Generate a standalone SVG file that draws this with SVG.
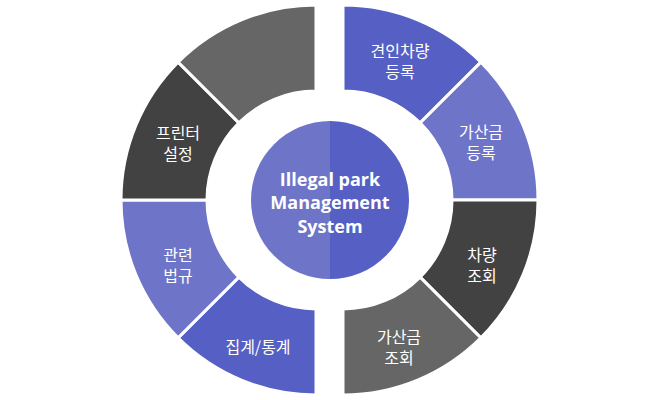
<svg xmlns="http://www.w3.org/2000/svg" width="657" height="400" viewBox="0 0 657 400">
<style>
.s{stroke:#fff;stroke-width:3}
.b{fill:#555fc4}.l{fill:#6e75c8}.d{fill:#424242}.g{fill:#666666}
text{font-family:"Noto Sans CJK KR","Noto Sans",sans-serif;fill:#fff;text-anchor:middle;font-size:16px}
.c{font-family:"Open Sans","Noto Sans",sans-serif;font-weight:bold;font-size:18px}
</style>
<rect width="657" height="400" fill="#fff"/>
<g id="n1"><path class="s b" d="M343,5 A195,195 0 0 1 480.9,62.1 L420.1,122.9 A109,109 0 0 0 343,91 Z"/><text x="400" y="57">견인차량</text><text x="400" y="78">등록</text></g>
<g id="n2"><path class="s l" d="M480.9,62.1 A195,195 0 0 1 538,200 L452,200 A109,109 0 0 0 420.1,122.9 Z"/><text x="481" y="138">가산금</text><text x="481" y="159">등록</text></g>
<g id="n3"><path class="s d" d="M538,200 A195,195 0 0 1 480.9,337.9 L420.1,277.1 A109,109 0 0 0 452,200 Z"/><text x="482" y="261">차량</text><text x="482" y="282">조회</text></g>
<g id="n4"><path class="s g" d="M480.9,337.9 A195,195 0 0 1 343,395 L343,309 A109,109 0 0 0 420.1,277.1 Z"/><text x="399" y="343">가산금</text><text x="399" y="364">조회</text></g>
<g id="n5"><path class="s b" d="M316,395 A195,195 0 0 1 178.1,337.9 L238.9,277.1 A109,109 0 0 0 316,309 Z"/><text x="258" y="353">집계/통계</text></g>
<g id="n6"><path class="s l" d="M178.1,337.9 A195,195 0 0 1 121,200 L207,200 A109,109 0 0 0 238.9,277.1 Z"/><text x="178" y="261">관련</text><text x="178" y="282">법규</text></g>
<g id="n7"><path class="s d" d="M121,200 A195,195 0 0 1 178.1,62.1 L238.9,122.9 A109,109 0 0 0 207,200 Z"/><text x="178" y="139">프린터</text><text x="178" y="160">설정</text></g>
<g id="n8"><path class="s g" d="M178.1,62.1 A195,195 0 0 1 316,5 L316,91 A109,109 0 0 0 238.9,122.9 Z"/></g>
<g id="center">
<path class="l" d="M330,121 A79,79 0 0 0 330,279 Z"/>
<path class="b" d="M330,121 A79,79 0 0 1 330,279 Z"/>
<text class="c" x="330" y="186">Illegal park</text>
<text class="c" x="330" y="209">Management</text>
<text class="c" x="330" y="233">System</text>
</g>
<g id="connectors"/>
</svg>
